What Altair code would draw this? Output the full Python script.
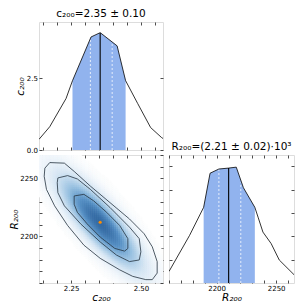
import altair as alt
import numpy as np
import pandas as pd

# ---------------- data ----------------
# marginal of c200 (top panel)
c_vals = [2.135, 2.1735, 2.2319, 2.2549, 2.3214, 2.3542, 2.4147, 2.4451, 2.4881, 2.5347, 2.5731, 2.579]
c_dens = [0.37, 0.81, 1.79, 2.41, 3.93, 4.08, 3.62, 2.41, 1.62, 0.78, 0.44, 0.40]
c_band = [2.2549, 2.4451]
c_median = [2.354]
c_median_h = [4.07]
c_quart = [2.319, 2.397]
c_quart_h = [3.86, 3.78]

# marginal of R200 (bottom-right panel)
r_vals = [2160, 2177.3, 2189.1, 2194.5, 2201.9, 2210.1, 2216.5, 2222.5, 2232.1, 2234.8, 2238.9, 2245.8, 2252.6, 2265]
r_dens = [0.00247, 0.0102, 0.0162, 0.0235, 0.0244, 0.0246, 0.0248, 0.0204, 0.0162, 0.0141, 0.0109, 0.00844, 0.00493, 0.00178]
r_band = [2189.1, 2232.1]
r_median = [2210.1]
r_median_h = [0.0246]
r_quart = [2201.9, 2220.3]
r_quart_h = [0.0244, 0.0215]

# joint contours (c200, R200)
outer_c = [2.156, 2.1735, 2.2259, 2.2609, 2.3192, 2.3891, 2.459, 2.5115, 2.5406, 2.5581, 2.5581, 2.5406, 2.5173, 2.4707, 2.424, 2.3541, 2.2958, 2.2376, 2.1909, 2.1618, 2.1536]
outer_r = [2258.7, 2263.5, 2263.0, 2255.9, 2243.2, 2229.1, 2215.0, 2202.3, 2191.1, 2178.4, 2168.5, 2162.9, 2162.9, 2165.7, 2171.3, 2181.2, 2192.5, 2209.4, 2226.3, 2240.4, 2251.7]
mid_c = [2.2026, 2.2376, 2.2725, 2.3192, 2.3891, 2.459, 2.494, 2.4998, 2.494, 2.459, 2.4124, 2.3541, 2.2842, 2.2259, 2.2026, 2.2003]
mid_r = [2250.3, 2252.3, 2249.4, 2240.4, 2224.9, 2208.0, 2198.1, 2186.8, 2179.8, 2178.4, 2184.0, 2195.3, 2210.8, 2226.3, 2237.6, 2246.1]
inner_c = [2.2609, 2.2958, 2.3308, 2.3774, 2.424, 2.4532, 2.4532, 2.4415, 2.4066, 2.3541, 2.3075, 2.2725, 2.2609]
inner_r = [2234.8, 2236.2, 2230.6, 2220.7, 2209.4, 2198.1, 2189.7, 2187.4, 2189.7, 2199.5, 2210.8, 2220.7, 2227.7]
best_c = [2.354]
best_r = [2212.2]

# joint density parameters (mean, widths, correlation)
mean_c, mean_r = 2.354, 2212.0
sig_c, sig_r, rho = 0.095, 26.0, -0.83

# axes
c_domain = [2.135, 2.579]
r_domain_y = [2160, 2270]
r_domain_x = [2160, 2265]
cd_domain = [0, 4.45]
rd_domain = [0, 0.0274]
c_ticks = [2.15, 2.20, 2.25, 2.30, 2.35, 2.40, 2.45, 2.50, 2.55]
c_labels = [2.25, 2.50]
r_ticks = [2160, 2170, 2180, 2190, 2200, 2210, 2220, 2230, 2240, 2250, 2260, 2270]
r_labels = [2200, 2250]
cd_ticks = [0.0, 2.5]
rd_ticks = [0.005, 0.010, 0.015, 0.020, 0.025]

title_c = "c₂₀₀=2.35 ± 0.10"
title_r = "R₂₀₀=(2.21 ± 0.02)·10³"
lab_c = "c₂₀₀"
lab_r = "R₂₀₀"

FONT = "DejaVu Sans"
SHADE = "#91b3ee"

# ---------------- helpers ----------------
def tick_axis(orient, values):
    return alt.Axis(orient=orient, values=values, labels=False, domain=False, grid=False,
                    ticks=True, tickSize=3, tickWidth=0.7, tickColor="black",
                    title=None, offset=-3)


def label_axis(orient, values, fmt, title, show=True):
    if not show:
        return alt.Axis(orient=orient, labels=False, ticks=False, domain=False, grid=False, title=None)
    return alt.Axis(orient=orient, values=values, format=fmt, labels=True, ticks=False, tickSize=0,
                    domain=False, grid=False, labelFontSize=7, labelPadding=1.5, labelFont=FONT,
                    labelColor="black", title=title, titleFontSize=10.5, titleFont=FONT,
                    titleFontWeight="normal", titleFontStyle="italic", titlePadding=0.5,
                    titleColor="black")


def axis_layers(df, xf, yf, xs, ys, xt, yt, xl, yl, xfmt, yfmt, xtitle, ytitle, showx, showy):
    base = alt.Chart(df).mark_point(opacity=0)
    l1 = base.encode(x=alt.X(xf, type="quantitative", scale=xs, axis=label_axis("bottom", xl, xfmt, xtitle, showx)),
                     y=alt.Y(yf, type="quantitative", scale=ys, axis=label_axis("left", yl, yfmt, ytitle, showy)))
    l2 = base.encode(x=alt.X(xf, type="quantitative", scale=xs, axis=tick_axis("bottom", xt)),
                     y=alt.Y(yf, type="quantitative", scale=ys, axis=tick_axis("left", yt)))
    l3 = base.encode(x=alt.X(xf, type="quantitative", scale=xs, axis=tick_axis("top", xt)),
                     y=alt.Y(yf, type="quantitative", scale=ys, axis=tick_axis("right", yt)))
    return [l1, l2, l3]


def marginal(vals, dens, band, med, med_h, quart, quart_h, xs, ys):
    df = pd.DataFrame({"x": vals, "d": dens})
    shade = alt.Chart(df).transform_filter(
        (alt.datum.x >= band[0] - 1e-9) & (alt.datum.x <= band[1] + 1e-9)
    ).mark_area(color=SHADE, opacity=1, clip=True).encode(
        x=alt.X("x:Q", scale=xs, axis=None), y=alt.Y("d:Q", scale=ys, axis=None))
    qdf = pd.DataFrame({"x": quart, "h": quart_h, "z": [0, 0]})
    dashes = alt.Chart(qdf).mark_rule(color="white", strokeDash=[2, 2], strokeWidth=0.9, opacity=0.85).encode(
        x=alt.X("x:Q", scale=xs, axis=None), y=alt.Y("z:Q", scale=ys, axis=None), y2="h:Q")
    mdf = pd.DataFrame({"x": med, "h": med_h, "z": [0]})
    medl = alt.Chart(mdf).mark_rule(color="black", strokeWidth=1.1).encode(
        x=alt.X("x:Q", scale=xs, axis=None), y=alt.Y("z:Q", scale=ys, axis=None), y2="h:Q")
    line = alt.Chart(df).mark_line(color="black", strokeWidth=0.8, clip=True).encode(
        x=alt.X("x:Q", scale=xs, axis=None), y=alt.Y("d:Q", scale=ys, axis=None))
    return df, [shade, dashes, medl, line]

# ---------------- scales ----------------
xs_c = alt.Scale(domain=c_domain, nice=False, zero=False)
ys_cd = alt.Scale(domain=cd_domain, nice=False, zero=False)
ys_r = alt.Scale(domain=r_domain_y, nice=False, zero=False)
xs_r = alt.Scale(domain=r_domain_x, nice=False, zero=False)
ys_rd = alt.Scale(domain=rd_domain, nice=False, zero=False)

W1, W2, H1, H2 = 124, 125, 128, 128
TITLE = dict(fontSize=10.5, font=FONT, fontWeight="normal", offset=2, anchor="middle", color="black")

# ---------------- top panel ----------------
cdf, cmarks = marginal(c_vals, c_dens, c_band, c_median, c_median_h, c_quart, c_quart_h, xs_c, ys_cd)
top = alt.layer(
    *cmarks,
    *axis_layers(cdf, "x", "d", xs_c, ys_cd, c_ticks, cd_ticks, c_labels, cd_ticks, ".2f", ".1f",
                 None, lab_c, False, True)
).resolve_axis(x="independent", y="independent").properties(
    width=W1, height=H1, title=alt.TitleParams(title_c, **TITLE))

# ---------------- joint panel ----------------
nx, ny = 64, 64
ce = np.linspace(c_domain[0], c_domain[1], nx + 1)
re = np.linspace(r_domain_y[0], r_domain_y[1], ny + 1)
cc = 0.5 * (ce[:-1] + ce[1:])
rr = 0.5 * (re[:-1] + re[1:])
CC, RR = np.meshgrid(cc, rr)
zc = (CC - mean_c) / sig_c
zr = (RR - mean_r) / sig_r
q = (zc ** 2 - 2 * rho * zc * zr + zr ** 2) / (1 - rho ** 2)
dens = np.exp(-0.5 * q)
dc = (ce[1] - ce[0])
dr = (re[1] - re[0])
heat = pd.DataFrame({
    "c": CC.ravel() - dc / 2, "c2": CC.ravel() + dc / 2,
    "r": RR.ravel() - dr / 2, "r2": RR.ravel() + dr / 2,
    "v": dens.ravel(),
})
heat = heat[heat["v"] > 0.012].reset_index(drop=True)
heat_scale = alt.Scale(type="linear", interpolate="rgb", domain=[0, 0.25, 0.5, 0.75, 1.0],
                       range=["#ffffff", "#d6e6f4", "#98c1e1", "#5690c5", "#346aa3"])
heat_l = alt.Chart(heat).mark_rect(strokeWidth=0.6, clip=True).encode(
    x=alt.X("c:Q", scale=xs_c, axis=None), x2="c2:Q",
    y=alt.Y("r:Q", scale=ys_r, axis=None), y2="r2:Q",
    color=alt.Color("v:Q", legend=None, scale=heat_scale),
    stroke=alt.Stroke("v:Q", legend=None, scale=heat_scale))

rows = []
for name, xs_, ys_ in (("outer", outer_c, outer_r), ("mid", mid_c, mid_r), ("inner", inner_c, inner_r)):
    pts = list(zip(xs_, ys_)) + [(xs_[0], ys_[0])]
    for i, (a, b) in enumerate(pts):
        rows.append({"lev": name, "i": i, "c": a, "r": b})
cont = pd.DataFrame(rows)
cont_l = alt.Chart(cont).mark_line(color="#25323f", strokeWidth=0.8, clip=True).encode(
    x=alt.X("c:Q", scale=xs_c, axis=None), y=alt.Y("r:Q", scale=ys_r, axis=None),
    detail="lev:N", order="i:Q")
best = pd.DataFrame({"c": best_c, "r": best_r})
best_l = alt.Chart(best).mark_point(filled=True, color="#ff8c00", size=10, opacity=1).encode(
    x=alt.X("c:Q", scale=xs_c, axis=None), y=alt.Y("r:Q", scale=ys_r, axis=None))

joint = alt.layer(
    heat_l, cont_l, best_l,
    *axis_layers(cont, "c", "r", xs_c, ys_r, c_ticks, r_ticks, c_labels, r_labels, ".2f", "d",
                 lab_c, lab_r, True, True)
).resolve_axis(x="independent", y="independent").properties(width=W1, height=H2)

# ---------------- right panel ----------------
rdf, rmarks = marginal(r_vals, r_dens, r_band, r_median, r_median_h, r_quart, r_quart_h, xs_r, ys_rd)
right = alt.layer(
    *rmarks,
    *axis_layers(rdf, "x", "d", xs_r, ys_rd, r_ticks, rd_ticks, r_labels, rd_ticks, "d", ".3f",
                 lab_r, None, True, False)
).resolve_axis(x="independent", y="independent").properties(
    width=W2, height=H2, title=alt.TitleParams(title_r, **TITLE))

chart = alt.vconcat(
    top,
    alt.hconcat(joint, right, spacing=6, bounds="flush"),
    spacing=5, bounds="flush",
).properties(padding={"left": 0, "top": 0, "right": 0, "bottom": 0}).configure_view(
    stroke="black", strokeWidth=0.8
).configure(font=FONT)

chart.save("out.html", embed_options={"renderer": "svg", "actions": False})
